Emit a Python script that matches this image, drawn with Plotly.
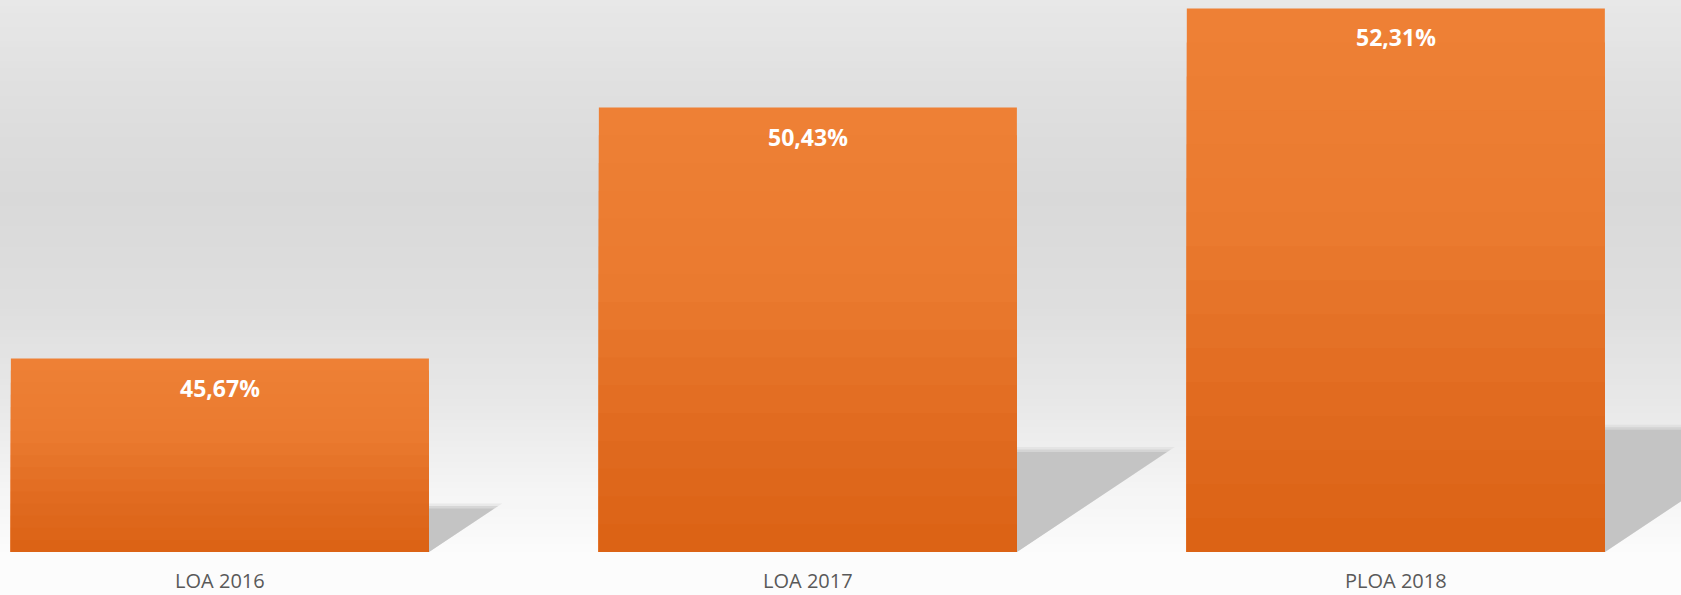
import plotly.graph_objects as go

categories = ["LOA 2016", "LOA 2017", "PLOA 2018"]
values = [45.67, 50.43, 52.31]
value_labels = ["45,67%", "50,43%", "52,31%"]

Y_BASE = 42.0
Y_TOP = 52.47
X_RANGE = [-0.374, 2.485]
BAR_W = 0.711

# vertical gradient of the bars: (fraction from top, rgb)
bar_stops = [(0.0, (238, 128, 53)), (0.4, (234, 122, 47)), (0.75, (224, 106, 31)), (1.0, (219, 98, 20))]


def interp(stops, t):
    for (t0, c0), (t1, c1) in zip(stops[:-1], stops[1:]):
        if t0 <= t <= t1:
            f = (t - t0) / (t1 - t0) if t1 > t0 else 0
            if isinstance(c0, tuple):
                return tuple(int(round(a + (b - a) * f)) for a, b in zip(c0, c1))
            return int(round(c0 + (c1 - c0) * f))
    return stops[-1][1]


fig = go.Figure()
NB = 16
xs = list(range(len(categories)))
for k in range(NB):
    frac = 1 - k / NB
    r, g, b = interp(bar_stops, (k + 0.5) / NB)
    fig.add_trace(go.Bar(
        x=xs,
        y=[(v - Y_BASE) * frac for v in values],
        base=Y_BASE,
        width=BAR_W,
        marker=dict(color=f"rgb({r},{g},{b})", line=dict(width=0)),
        hoverinfo="skip",
    ))

shapes = []
# background vertical gradient (paper coords)
bg_stops = [(0.0, 0xe8), (0.18, 0xdf), (0.36, 0xd9), (0.55, 0xde), (0.73, 0xe8),
            (0.82, 0xef), (0.91, 0xf6), (1.0, 0xfb)]
N = 80
for k in range(N):
    t0 = k / N
    t1 = (k + 1) / N
    g = interp(bg_stops, (t0 + t1) / 2)
    shapes.append(dict(type="rect", xref="paper", yref="paper",
                       x0=0, x1=1, y0=1 - t1, y1=1 - t0 + 0.002,
                       fillcolor=f"rgb({g},{g},{g})", line=dict(width=0), layer="below"))

# shadows behind bars
px_per_x = 588.0
px_per_y = 52.68
for i, v in enumerate(values):
    xr = i + BAR_W / 2
    h = 0.225 * (v - Y_BASE)
    wd = 1.5 * h * px_per_y / px_per_x
    for dpx, col in [(5, "rgba(196,196,196,0.25)"), (2.5, "rgba(196,196,196,0.5)"), (0, "rgb(196,196,196)")]:
        hh = h + dpx / px_per_y
        ww = wd + 1.6 * dpx / px_per_x
        path = f"M {xr},{Y_BASE} L {xr},{Y_BASE + hh} L {xr + ww},{Y_BASE + hh} Z"
        shapes.append(dict(type="path", xref="x", yref="y", path=path,
                           fillcolor=col, line=dict(width=0), layer="below"))

annotations = []
for i, (v, lab) in enumerate(zip(values, value_labels)):
    annotations.append(dict(x=i, y=v, xref="x", yref="y", text=lab,
                            showarrow=False, yanchor="top", yshift=-11,
                            font=dict(family="Open Sans", size=23, color="white", weight="bold")))

fig.update_layout(
    width=1681, height=595,
    margin=dict(l=0, r=0, t=0, b=43),
    paper_bgcolor="#fcfcfc",
    plot_bgcolor="rgba(0,0,0,0)",
    showlegend=False,
    barmode="overlay",
    shapes=shapes,
    annotations=annotations,
    xaxis=dict(range=X_RANGE, tickmode="array", tickvals=xs, automargin=False,
               ticktext=categories, showgrid=False, zeroline=False, showline=False,
               ticks="outside", ticklen=11, tickcolor="rgba(0,0,0,0)",
               tickfont=dict(family="Open Sans", size=20, color="#595959"), fixedrange=True),
    yaxis=dict(range=[Y_BASE, Y_TOP], visible=False, automargin=False, showgrid=False,
               zeroline=False, fixedrange=True),
)

fig.write_html("out.html", config={"displayModeBar": False},
               post_script="document.body.style.margin='0';document.body.style.overflow='hidden';")
